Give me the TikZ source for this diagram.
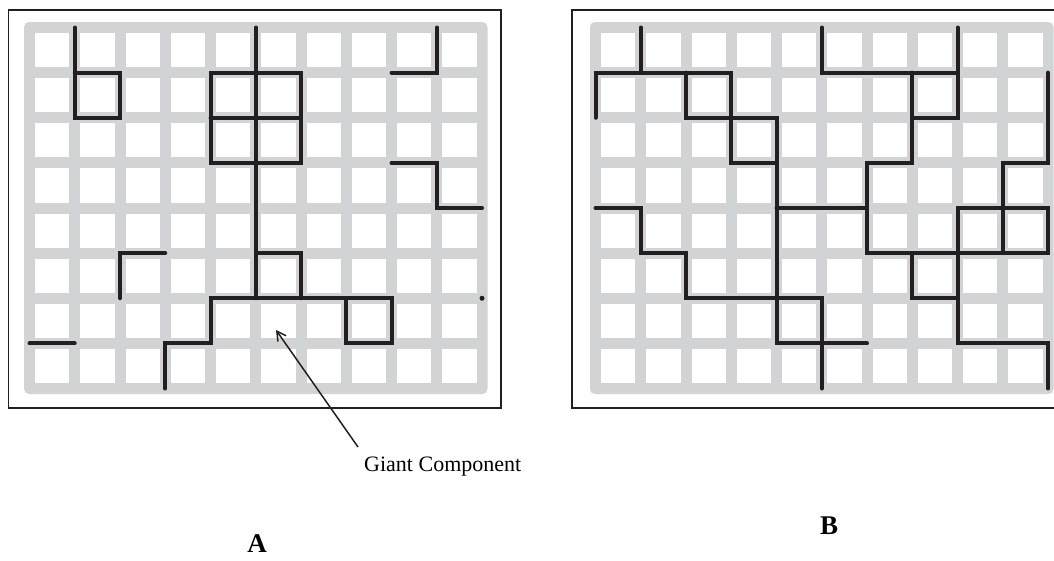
\documentclass[tikz,border=0pt]{standalone}
\usepackage{fontspec}
\setmainfont{Liberation Serif}
\usetikzlibrary{arrows.meta}
\definecolor{latticegray}{RGB}{209,211,212}
\definecolor{bondblack}{RGB}{35,31,32}

% Square lattice of 10 x 8 cells: #1 name prefix, #2/#3 position of the first grid line
\newcommand\drawlattice[3]{%
  \fill[latticegray, rounded corners=5pt] (#2-5.5,#3-5.5) rectangle (#2+452.5+5.5,#3+361+5.5);
  \foreach \i in {0,...,9}{\foreach \j in {0,...,7}{%
    \fill[white] (#2+45.25*\i+5.5,#3+45.125*\j+5.5) rectangle (#2+45.25*\i+45.25-5.5,#3+45.125*\j+45.125-5.5);}}
  \foreach \i in {0,...,10}{\foreach \j in {0,...,8}{%
    \coordinate (#1-\i-\j) at (#2+45.25*\i,#3+45.125*\j);}}
}

\begin{document}
\begin{tikzpicture}[x=1pt,y=-1pt,
  bond/.style={line width=4pt, color=bondblack, line cap=round, line join=miter},
  panelframe/.style={line width=1.3pt, color=bondblack},
  pointer/.style={line width=1.5pt, color=bondblack, -{Straight Barb[length=9pt,width=10pt,line width=1.5pt]}},
  caption/.style={font=\fontsize{22}{24}\selectfont, inner sep=0pt},
  panellabel/.style={font=\fontsize{27}{29}\selectfont\bfseries, inner sep=0pt}]
\useasboundingbox (0,0) rectangle (1054,560);

% frames
\draw[panelframe] (8.5,10) rectangle (501,408);
\draw[panelframe] (1060,10) -- (572,10) -- (572,408) -- (1060,408);

% lattices
\drawlattice{A}{29.5}{27.5}
\drawlattice{B}{595.5}{27.5}

% panel A: occupied bonds
\draw[bond] (A-1-0) -- (A-1-2) -- (A-2-2) -- (A-2-1) -- (A-1-1);
\draw[bond] (A-5-0) -- (A-5-6);
\draw[bond] (A-4-1) rectangle (A-6-3);
\draw[bond] (A-4-2) -- (A-6-2);
\draw[bond] (A-5-5) -- (A-6-5) -- (A-6-6);
\draw[bond] (A-3-8) -- (A-3-7) -- (A-4-7) -- (A-4-6) -- (A-8-6) -- (A-8-7) -- (A-7-7) -- (A-7-6);
\draw[bond] (A-8-1) -- (A-9-1) -- (A-9-0);
\draw[bond] (A-8-3) -- (A-9-3) -- (A-9-4) -- (A-10-4);
\draw[bond] (A-3-5) -- (A-2-5) -- (A-2-6);
\draw[bond] (A-0-7) -- (A-1-7);
\fill[bondblack] (A-10-6) circle (2.5);

% panel B: occupied bonds
\draw[bond] (B-1-0) -- (B-1-1);
\draw[bond] (B-0-2) -- (B-0-1) -- (B-3-1) -- (B-3-3) -- (B-4-3);
\draw[bond] (B-2-1) -- (B-2-2) -- (B-4-2) -- (B-4-7) -- (B-6-7);
\draw[bond] (B-0-4) -- (B-1-4) -- (B-1-5) -- (B-2-5) -- (B-2-6) -- (B-5-6) -- (B-5-8);
\draw[bond] (B-4-4) -- (B-6-4);
\draw[bond] (B-5-0) -- (B-5-1) -- (B-8-1);
\draw[bond] (B-8-0) -- (B-8-2) -- (B-7-2);
\draw[bond] (B-7-1) -- (B-7-3) -- (B-6-3) -- (B-6-5) -- (B-10-5) -- (B-10-4) -- (B-8-4) -- (B-8-7) -- (B-10-7) -- (B-10-8);
\draw[bond] (B-10-1) -- (B-10-3) -- (B-9-3) -- (B-9-5);
\draw[bond] (B-7-5) -- (B-7-6) -- (B-8-6);

% annotation
\node[caption, anchor=base west] (giant) at (364,471) {Giant Component};
\coordinate (tail) at (358,447);
\coordinate (tip) at (276,330);
\draw[pointer] (tail) -- (tip);

% panel labels
\node[panellabel] (labA) at (257,544) {A};
\node[panellabel] (labB) at (829,526) {B};
\end{tikzpicture}
\end{document}
